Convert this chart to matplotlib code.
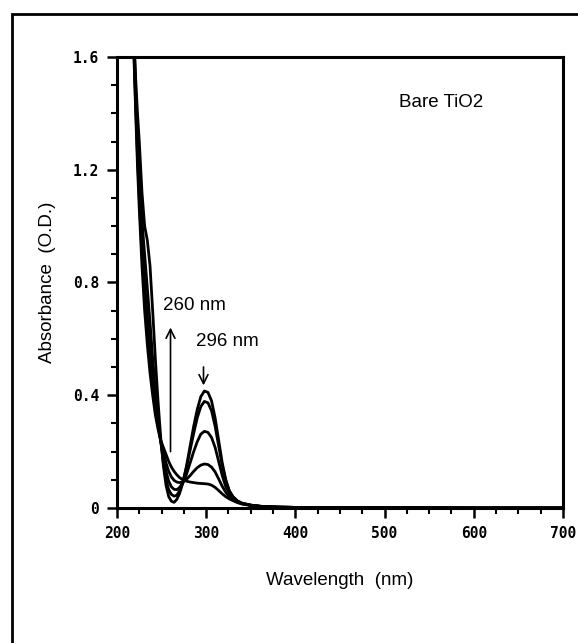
import matplotlib.pyplot as plt
from matplotlib.patches import Rectangle
from matplotlib.ticker import MultipleLocator

# wavelength grid (nm) shared by all spectra
wavelength = [217, 219, 221, 223, 225, 228, 231, 234, 237, 240, 243, 246, 249,
              252, 255, 258, 261, 264, 267, 270, 274, 278, 282, 286, 290, 294,
              298, 302, 306, 310, 314, 318, 322, 326, 330, 335, 340, 350, 360,
              380, 400, 450, 500, 600, 700]

# absorbance spectra, from the strongest 296 nm peak to the weakest
abs_a = [1.85, 1.68, 1.52, 1.40, 1.30, 1.12, 1.00, 0.95, 0.86, 0.70, 0.53, 0.38, 0.25,
         0.15, 0.08, 0.04, 0.024, 0.02, 0.03, 0.05, 0.09, 0.15, 0.22, 0.29, 0.35, 0.395,
         0.415, 0.41, 0.38, 0.32, 0.24, 0.16, 0.10, 0.06, 0.04, 0.025, 0.017, 0.01, 0.006,
         0.003, 0.002, 0.001, 0.001, 0.0, 0.0]
abs_b = [1.83, 1.66, 1.48, 1.33, 1.20, 1.02, 0.90, 0.78, 0.66, 0.53, 0.42, 0.32, 0.24,
         0.16, 0.10, 0.065, 0.048, 0.042, 0.045, 0.06, 0.095, 0.145, 0.205, 0.265, 0.32, 0.36,
         0.378, 0.373, 0.345, 0.29, 0.22, 0.15, 0.095, 0.06, 0.04, 0.025, 0.017, 0.01, 0.006,
         0.003, 0.002, 0.001, 0.001, 0.0, 0.0]
abs_c = [1.81, 1.64, 1.45, 1.29, 1.15, 0.95, 0.80, 0.68, 0.57, 0.47, 0.38, 0.30, 0.235,
         0.18, 0.13, 0.095, 0.075, 0.066, 0.065, 0.072, 0.09, 0.12, 0.16, 0.20, 0.235, 0.262,
         0.272, 0.268, 0.25, 0.215, 0.165, 0.115, 0.075, 0.05, 0.035, 0.024, 0.016, 0.01, 0.006,
         0.003, 0.002, 0.001, 0.001, 0.0, 0.0]
abs_d = [1.79, 1.62, 1.42, 1.25, 1.10, 0.90, 0.74, 0.62, 0.51, 0.42, 0.35, 0.29, 0.24,
         0.20, 0.16, 0.13, 0.11, 0.098, 0.092, 0.09, 0.093, 0.102, 0.115, 0.13, 0.143, 0.152,
         0.156, 0.154, 0.145, 0.128, 0.103, 0.077, 0.055, 0.04, 0.03, 0.021, 0.015, 0.009, 0.006,
         0.003, 0.002, 0.001, 0.001, 0.0, 0.0]
abs_e = [1.77, 1.60, 1.40, 1.21, 1.06, 0.86, 0.70, 0.58, 0.48, 0.40, 0.33, 0.28, 0.24,
         0.215, 0.19, 0.165, 0.145, 0.13, 0.118, 0.108, 0.10, 0.095, 0.092, 0.09, 0.088, 0.087,
         0.086, 0.085, 0.081, 0.073, 0.062, 0.05, 0.04, 0.032, 0.026, 0.019, 0.014, 0.009, 0.006,
         0.003, 0.002, 0.001, 0.001, 0.0, 0.0]
spectra = [abs_a, abs_b, abs_c, abs_d, abs_e]

x_ticks = [200, 300, 400, 500, 600, 700]
y_ticks = [0, 0.4, 0.8, 1.2, 1.6]
y_tick_labels = ["0", "0.4", "0.8", "1.2", "1.6"]

fig = plt.figure(figsize=(5.78, 6.43), dpi=100)
ax = fig.add_axes([0.2024, 0.21, 0.7716, 0.7014])

for s in spectra:
    ax.plot(wavelength, s, color="black", lw=2.0, solid_joinstyle="round")

ax.set_xlim(200, 700)
ax.set_ylim(0, 1.6)
ax.set_xticks(x_ticks)
ax.set_yticks(y_ticks)
ax.set_yticklabels(y_tick_labels)
ax.xaxis.set_minor_locator(MultipleLocator(25))
ax.yaxis.set_minor_locator(MultipleLocator(0.1))
ax.tick_params(which="major", direction="out", length=7, width=1.8, pad=6)
ax.tick_params(which="minor", direction="out", length=4, width=1.5)
for lab in ax.get_xticklabels() + ax.get_yticklabels():
    lab.set_family("DejaVu Sans Mono")
    lab.set_fontweight("bold")
    lab.set_fontsize(10.5)
for sp in ax.spines.values():
    sp.set_linewidth(2.2)

label_font = {"family": "Liberation Sans", "size": 13.5}
ax.set_xlabel("Wavelength  (nm)", fontdict=label_font, labelpad=22)
ax.set_ylabel("Absorbance  (O.D.)", fontdict=label_font, labelpad=12)

ax.text(516, 1.44, "Bare TiO2", fontdict=label_font, va="center")

# 260 nm: absorbance increases
ax.annotate("", xy=(260, 0.65), xytext=(260, 0.19),
            arrowprops=dict(arrowstyle="->", color="black", lw=1.2,
                            mutation_scale=16))
ax.text(252, 0.72, "260 nm", fontdict=label_font, va="center")
# 296 nm: peak decreases
ax.annotate("", xy=(297, 0.425), xytext=(297, 0.51),
            arrowprops=dict(arrowstyle="->", color="black", lw=1.2,
                            mutation_scale=16))
ax.text(289, 0.59, "296 nm", fontdict=label_font, va="center")

# outer frame of the scanned figure
fig.patches.append(Rectangle((12 / 578, -0.05), 1.1, 0.05 + 1 - 14 / 643,
                             transform=fig.transFigure, fill=False,
                             edgecolor="black", lw=2))

fig.savefig("out.png", dpi=100)
